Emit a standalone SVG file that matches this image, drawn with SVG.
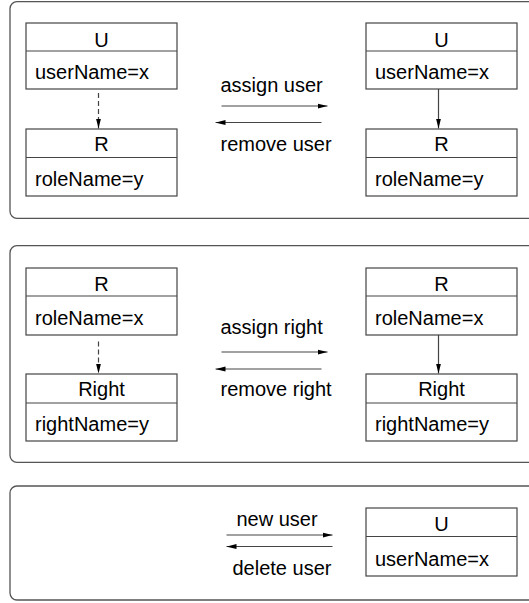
<svg xmlns="http://www.w3.org/2000/svg" width="529" height="603" viewBox="0 0 529 603">
<style>
.frame{fill:none;stroke:#555;stroke-width:1.3}
.box{fill:#fff;stroke:#444;stroke-width:1.2}
.div{stroke:#444;stroke-width:1.2}
text{font-family:"Liberation Sans",Arial,sans-serif;font-size:20px;fill:#000}
.c{text-anchor:middle}
.conn{stroke:#444;stroke-width:1.2;fill:none}
.dash{stroke-dasharray:5,3}
</style>
<defs>
<marker id="ah" markerUnits="userSpaceOnUse" markerWidth="10" markerHeight="6" refX="10" refY="3" orient="auto">
<path d="M0,0.5 L10,3 L0,5.5 z" fill="#000"/>
</marker>
</defs>
<g id="panels">
<rect class="frame" x="10" y="1.7" width="540" height="216.6" rx="7"/>
<rect class="frame" x="10" y="245.7" width="540" height="216.6" rx="7"/>
<rect class="frame" x="10" y="486" width="540" height="114" rx="7"/>
</g>
<g id="p1-U-left">
<rect class="box" x="26" y="23" width="151" height="66"/>
<line class="div" x1="26" y1="51" x2="177" y2="51"/>
<text class="c" x="101.5" y="47">U</text>
<text x="35" y="79">userName=x</text>
</g>
<g id="p1-R-left">
<rect class="box" x="26" y="129" width="151" height="67"/>
<line class="div" x1="26" y1="157.5" x2="177" y2="157.5"/>
<text class="c" x="101.5" y="150.5">R</text>
<text x="35" y="186">roleName=y</text>
</g>
<g id="p1-U-right">
<rect class="box" x="366" y="23" width="151" height="66"/>
<line class="div" x1="366" y1="51" x2="517" y2="51"/>
<text class="c" x="441.5" y="47">U</text>
<text x="375" y="79">userName=x</text>
</g>
<g id="p1-R-right">
<rect class="box" x="366" y="129" width="151" height="67"/>
<line class="div" x1="366" y1="157.5" x2="517" y2="157.5"/>
<text class="c" x="441.5" y="150.5">R</text>
<text x="375" y="186">roleName=y</text>
</g>
<g id="p2-R-left">
<rect class="box" x="26" y="268" width="151" height="67"/>
<line class="div" x1="26" y1="296" x2="177" y2="296"/>
<text class="c" x="101.5" y="291">R</text>
<text x="35" y="325">roleName=x</text>
</g>
<g id="p2-Right-left">
<rect class="box" x="26" y="374" width="151" height="67"/>
<line class="div" x1="26" y1="403" x2="177" y2="403"/>
<text class="c" x="101.5" y="396">Right</text>
<text x="35" y="431">rightName=y</text>
</g>
<g id="p2-R-right">
<rect class="box" x="366" y="268" width="151" height="67"/>
<line class="div" x1="366" y1="296" x2="517" y2="296"/>
<text class="c" x="441.5" y="291">R</text>
<text x="375" y="325">roleName=x</text>
</g>
<g id="p2-Right-right">
<rect class="box" x="366" y="374" width="151" height="67"/>
<line class="div" x1="366" y1="403" x2="517" y2="403"/>
<text class="c" x="441.5" y="396">Right</text>
<text x="375" y="431">rightName=y</text>
</g>
<g id="p3-U">
<rect class="box" x="366" y="508" width="151" height="68"/>
<line class="div" x1="366" y1="536.5" x2="517" y2="536.5"/>
<text class="c" x="441.5" y="531">U</text>
<text x="375" y="566">userName=x</text>
</g>
<g id="connectors">
<line class="conn dash" x1="98.5" y1="93" x2="98.5" y2="128.5" marker-end="url(#ah)"/>
<line class="conn" x1="438.5" y1="89" x2="438.5" y2="128.5" marker-end="url(#ah)"/>
<line class="conn" x1="221.5" y1="106" x2="327.5" y2="106" marker-end="url(#ah)"/>
<line class="conn" x1="321.5" y1="122.5" x2="215.5" y2="122.5" marker-end="url(#ah)"/>
<line class="conn dash" x1="98.5" y1="341.5" x2="98.5" y2="373.5" marker-end="url(#ah)"/>
<line class="conn" x1="438.5" y1="335" x2="438.5" y2="373.5" marker-end="url(#ah)"/>
<line class="conn" x1="221.5" y1="352" x2="327.5" y2="352" marker-end="url(#ah)"/>
<line class="conn" x1="321.5" y1="369" x2="215.5" y2="369" marker-end="url(#ah)"/>
<line class="conn" x1="226.5" y1="535" x2="332.5" y2="535" marker-end="url(#ah)"/>
<line class="conn" x1="332.5" y1="546.5" x2="226.5" y2="546.5" marker-end="url(#ah)"/>
</g>
<g id="labels">
<text x="220.5" y="92">assign user</text>
<text x="220.5" y="151">remove user</text>
<text x="220.5" y="334">assign right</text>
<text x="220.5" y="396">remove right</text>
<text x="236.5" y="526">new user</text>
<text x="232.5" y="575">delete user</text>
</g>
</svg>
